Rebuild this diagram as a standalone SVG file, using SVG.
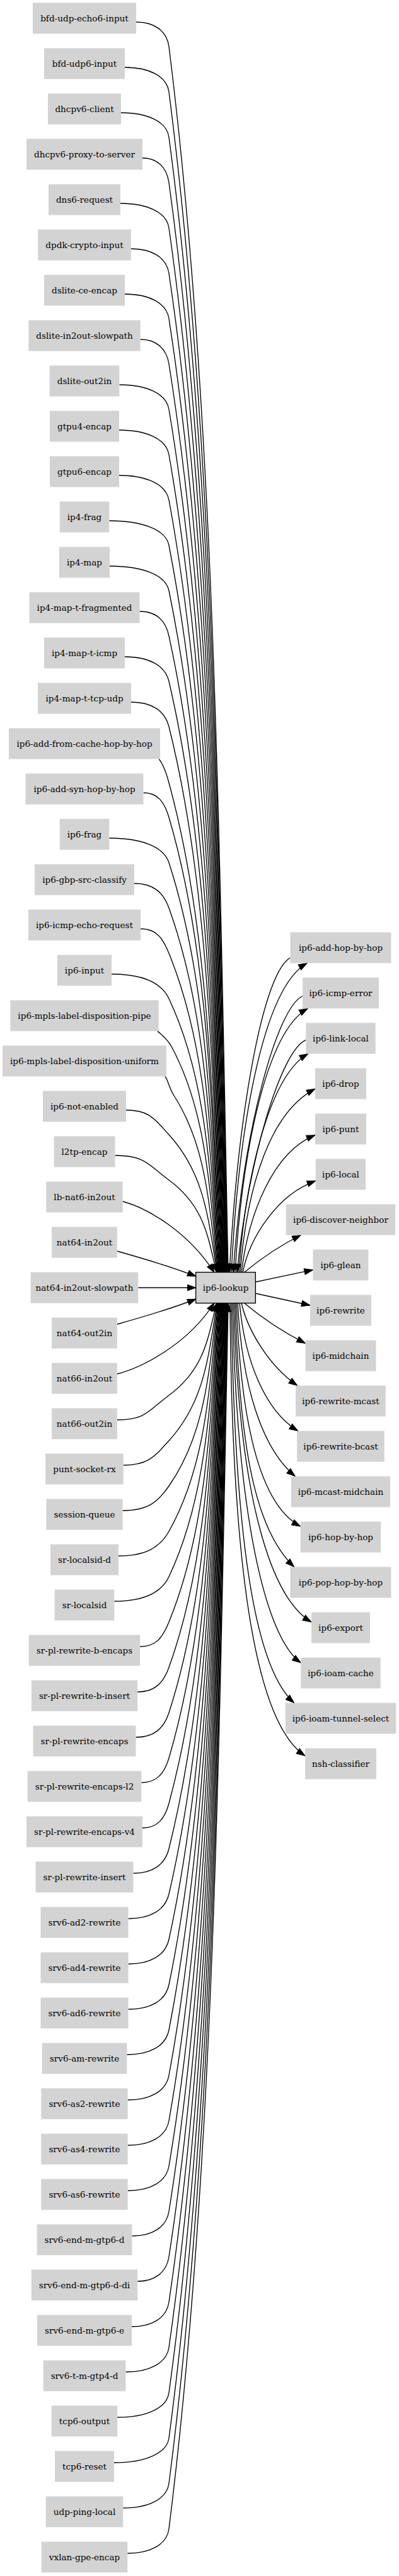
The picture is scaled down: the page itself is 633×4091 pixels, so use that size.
<svg xmlns="http://www.w3.org/2000/svg" width="633" height="4091" viewBox="0 0 633 4091">
<style>
.n rect{fill:#d3d3d3;stroke:none}
.lk rect{fill:#d3d3d3;stroke:#000;stroke-width:1.36}
text{font-family:"DejaVu Serif","Liberation Serif",serif;font-size:13.6px;text-anchor:middle;fill:#000}
.e path{fill:none;stroke:#000;stroke-width:1.36;marker-end:url(#a)}
</style>
<defs>
<marker id="a" markerUnits="userSpaceOnUse" markerWidth="14" markerHeight="10" viewBox="0 0 14 10" refX="13.6" refY="4.75" orient="auto" overflow="visible">
<path d="M0,0 L13.6,4.75 L0,9.5 z" fill="#000" stroke="#000" stroke-width="1"/>
</marker>
</defs>
<rect x="0" y="0" width="633" height="4091" fill="#fff"/>
<g id="edges" class="e">
<path d="M216,35 C244.6,35 264.9,49 268,74 C341.3,658.1 348,1339.5 362,2021"/>
<path d="M198,107 C236.5,107 264.8,121 268,146 C340.8,708.5 347.3,1364.7 361.3,2021"/>
<path d="M192,179 C233.8,179 264.7,193 268,218 C340.2,758.9 346.6,1390 360.6,2021"/>
<path d="M226,251 C249.1,251 264.6,265 268,290 C339.6,809.3 345.8,1415.1 359.8,2021"/>
<path d="M191,323 C233.4,323 264.4,337 268,362 C339.1,859.7 345.1,1440.3 359.1,2021"/>
<path d="M207.8,395 C240.9,395 264.3,409 268,434 C338.5,910.1 344.4,1465.5 358.4,2021"/>
<path d="M198,467 C236.5,467 264.2,481 268,506 C338,960.5 343.7,1490.7 357.7,2021"/>
<path d="M222.7,539 C247.6,539 264,553 268,578 C337.4,1010.9 343,1516 357,2021"/>
<path d="M189.4,611 C232.6,611 263.8,625 268,650 C336.8,1061.3 342.2,1541.1 356.2,2021"/>
<path d="M189,683 C232.5,683 263.6,697 268,722 C336.3,1111.7 341.5,1566.3 355.5,2021"/>
<path d="M189,755 C232.5,755 263.4,769 268,794 C335.7,1162.1 340.8,1591.5 354.8,2021"/>
<path d="M173.3,827 C225.4,827 263.2,841 268,866 C335.2,1212.5 340.1,1616.7 354.1,2021"/>
<path d="M174,899 C225.7,899 262.9,913 268,938 C334.6,1262.9 339.4,1641.9 353.4,2021"/>
<path d="M221.5,971 C247.1,971 262.6,985 268,1010 C334,1313.3 338.6,1667.1 352.6,2021"/>
<path d="M198,1043 C236.5,1043 262.2,1057 268,1082 C333.4,1363.7 337.9,1692.3 351.9,2021"/>
<path d="M208,1115 C241,1115 261.8,1129 268,1154 C332.9,1414.1 337.2,1717.5 351.2,2021"/>
<path d="M252,1205.5 C256,1209 262.6,1224 266,1236 C331.9,1471.5 336.5,1746.2 350.5,2021"/>
<path d="M227.5,1259 C249.8,1259 260.6,1273 268,1298 C331.8,1514.9 335.8,1767.9 349.8,2021"/>
<path d="M173.3,1331 C225.4,1331 259.9,1345 268,1370 C331.2,1565.3 335,1793.2 349,2021"/>
<path d="M212.9,1403 C243.2,1403 259,1417 268,1442 C330.6,1615.7 334.3,1818.3 348.3,2021"/>
<path d="M223.1,1475 C247.8,1475 257.8,1489 268,1514 C330.1,1666.1 333.6,1843.5 347.6,2021"/>
<path d="M177.2,1547 C227.1,1547 256.2,1561 268,1586 C329.5,1716.5 332.9,1868.7 346.9,2021"/>
<path d="M249.7,1637.5 C254,1641 265.6,1650 272,1662 C329.9,1769.7 332.2,1895.3 346.2,2021"/>
<path d="M262,1709.5 C266,1714 268.3,1728 276,1740 C330.1,1824.3 331.4,1922.6 345.4,2021"/>
<path d="M200,1763 C237.4,1763 245.2,1777 268,1802 C327.8,1867.7 330.7,1944.4 344.7,2021"/>
<path d="M182.5,1835 C229.5,1835 234.4,1849 268,1874 C327.3,1918.1 330,1969.6 344,2021"/>
<path d="M194.7,1908 C232,1918 298,1955 340,2021"/>
<path d="M185.9,1987 C225,1998 270,2011 311,2027"/>
<path d="M219.3,2045 L311,2045"/>
<path d="M185.9,2103 C225,2092 270,2079 311,2063"/>
<path d="M185.9,2182 C225,2172 298,2135 340,2069"/>
<path d="M185.9,2255 C231.1,2255 234.4,2241 268,2216 C327.3,2171.9 330,2120.4 344,2069"/>
<path d="M195.8,2327 C235.5,2327 245.2,2313 268,2288 C327.8,2222.3 330.7,2145.6 344.7,2069"/>
<path d="M194.6,2399 C235,2399 250.7,2385 268,2360 C328.4,2272.7 331.4,2170.9 345.4,2069"/>
<path d="M188,2471 C232,2471 254,2457 268,2432 C329,2323.1 332.2,2196 346.2,2069"/>
<path d="M181.4,2543 C229,2543 256.2,2529 268,2504 C329.5,2373.5 332.9,2221.3 346.9,2069"/>
<path d="M222.2,2615 C247.4,2615 257.8,2601 268,2576 C330.1,2423.9 333.6,2246.5 347.6,2069"/>
<path d="M218.1,2687 C245.5,2687 259,2673 268,2648 C330.6,2474.3 334.3,2271.7 348.3,2069"/>
<path d="M215.5,2759 C244.4,2759 259.9,2745 268,2720 C331.2,2524.7 335,2296.8 349,2069"/>
<path d="M224.3,2831 C248.3,2831 260.6,2817 268,2792 C331.8,2575.1 335.8,2322.1 349.8,2069"/>
<path d="M226,2903 C249.1,2903 261.3,2889 268,2864 C332.4,2625.5 336.5,2347.3 350.5,2069"/>
<path d="M211.5,2975 C242.6,2975 261.8,2961 268,2936 C332.9,2675.9 337.2,2372.5 351.2,2069"/>
<path d="M203.5,3047 C239,3047 262.2,3033 268,3008 C333.4,2726.3 337.9,2397.7 351.9,2069"/>
<path d="M203.5,3119 C239,3119 262.6,3105 268,3080 C334,2776.7 338.6,2422.9 352.6,2069"/>
<path d="M203.5,3191 C239,3191 262.9,3177 268,3152 C334.6,2827.1 339.4,2448.1 353.4,2069"/>
<path d="M201.3,3263 C238,3263 263.2,3249 268,3224 C335.2,2877.5 340.1,2473.3 354.1,2069"/>
<path d="M202.7,3335 C238.6,3335 263.4,3321 268,3296 C335.7,2927.9 340.8,2498.5 354.8,2069"/>
<path d="M202.7,3407 C238.6,3407 263.6,3393 268,3368 C336.3,2978.3 341.5,2523.7 355.5,2069"/>
<path d="M202.7,3479 C238.6,3479 263.8,3465 268,3440 C336.8,3028.7 342.2,2548.9 356.2,2069"/>
<path d="M209.4,3551 C241.6,3551 264,3537 268,3512 C337.4,3079.1 343,2574 357,2069"/>
<path d="M218.2,3623 C245.6,3623 264.2,3609 268,3584 C338,3129.5 343.7,2599.3 357.7,2069"/>
<path d="M209.1,3695 C241.5,3695 264.3,3681 268,3656 C338.5,3179.9 344.4,2624.5 358.4,2069"/>
<path d="M199.4,3767 C237.1,3767 264.4,3753 268,3728 C339.1,3230.3 345.1,2649.7 359.1,2069"/>
<path d="M186.2,3839 C231.2,3839 264.6,3825 268,3800 C339.6,3280.7 345.8,2674.9 359.8,2069"/>
<path d="M181,3911 C228.9,3911 264.7,3897 268,3872 C340.2,3331.1 346.6,2700 360.6,2069"/>
<path d="M195.3,3983 C235.3,3983 264.8,3969 268,3944 C340.8,3381.5 347.3,2725.3 361.3,2069"/>
<path d="M202.2,4055 C238.4,4055 264.9,4041 268,4016 C341.3,3431.9 348,2750.5 362,2069"/>
<path d="M460.5,1521 C418,1545 378,1760 364,2021"/>
<path d="M480,1582 C440,1600 386,1790 370,2021"/>
<path d="M485.3,1651.7 C446,1668 394,1840 376,2021"/>
<path d="M367,2021 C378,1800 415,1570 487.3,1529.5"/>
<path d="M373,2021 C383,1840 420,1640 488.3,1601.5"/>
<path d="M379,2021 C388,1880 425,1710 488.7,1673.5"/>
<path d="M381,2021 C392,1880 430,1765 500,1729.3"/>
<path d="M383,2021 C394,1930 432,1830 500,1802.7"/>
<path d="M385,2021 C396,1965 440,1897 500.85,1875.3"/>
<path d="M387,2021 C410,2002 440,1980 477.3,1961.5"/>
<path d="M405,2036 L496.5,2016.7"/>
<path d="M405,2054 L492,2073"/>
<path d="M387,2069 C412,2090 448,2115 484.5,2133.3"/>
<path d="M383,2069 C392,2110 425,2168 471.7,2200.5"/>
<path d="M380,2069 C388,2160 420,2240 472.7,2272.5"/>
<path d="M377,2069 C384,2200 415,2300 468.3,2344.5"/>
<path d="M375,2069 C382,2260 412,2390 476.7,2424"/>
<path d="M373,2069 C380,2300 405,2430 466.7,2488.5"/>
<path d="M371,2069 C378,2360 425,2535 494,2576"/>
<path d="M369,2069 C375,2400 420,2600 477.3,2640.7"/>
<path d="M367,2069 C372,2450 405,2650 466.7,2704.5"/>
<path d="M365,2069 C368,2520 410,2740 484,2788.3"/>
</g>
<g id="n-bfd-udp-echo6-input" class="n" transform="translate(134,29)"><rect x="-82" y="-24.5" width="164" height="49"/><text y="4.6">bfd-udp-echo6-input</text></g>
<g id="n-bfd-udp6-input" class="n" transform="translate(134,101)"><rect x="-64" y="-24.5" width="128" height="49"/><text y="4.6">bfd-udp6-input</text></g>
<g id="n-dhcpv6-client" class="n" transform="translate(134,173)"><rect x="-58" y="-24.5" width="116" height="49"/><text y="4.6">dhcpv6-client</text></g>
<g id="n-dhcpv6-proxy-to-server" class="n" transform="translate(134,245)"><rect x="-92" y="-24.5" width="184" height="49"/><text y="4.6">dhcpv6-proxy-to-server</text></g>
<g id="n-dns6-request" class="n" transform="translate(134,317)"><rect x="-57" y="-24.5" width="114" height="49"/><text y="4.6">dns6-request</text></g>
<g id="n-dpdk-crypto-input" class="n" transform="translate(134,389)"><rect x="-73.8" y="-24.5" width="147.6" height="49"/><text y="4.6">dpdk-crypto-input</text></g>
<g id="n-dslite-ce-encap" class="n" transform="translate(134,461)"><rect x="-64" y="-24.5" width="128" height="49"/><text y="4.6">dslite-ce-encap</text></g>
<g id="n-dslite-in2out-slowpath" class="n" transform="translate(134,533)"><rect x="-88.7" y="-24.5" width="177.4" height="49"/><text y="4.6">dslite-in2out-slowpath</text></g>
<g id="n-dslite-out2in" class="n" transform="translate(134,605)"><rect x="-55.4" y="-24.5" width="110.7" height="49"/><text y="4.6">dslite-out2in</text></g>
<g id="n-gtpu4-encap" class="n" transform="translate(134,677)"><rect x="-55" y="-24.5" width="110" height="49"/><text y="4.6">gtpu4-encap</text></g>
<g id="n-gtpu6-encap" class="n" transform="translate(134,749)"><rect x="-55" y="-24.5" width="110" height="49"/><text y="4.6">gtpu6-encap</text></g>
<g id="n-ip4-frag" class="n" transform="translate(134,821)"><rect x="-39.3" y="-24.5" width="78.6" height="49"/><text y="4.6">ip4-frag</text></g>
<g id="n-ip4-map" class="n" transform="translate(134,893)"><rect x="-40" y="-24.5" width="80" height="49"/><text y="4.6">ip4-map</text></g>
<g id="n-ip4-map-t-fragmented" class="n" transform="translate(134,965)"><rect x="-87.5" y="-24.5" width="175" height="49"/><text y="4.6">ip4-map-t-fragmented</text></g>
<g id="n-ip4-map-t-icmp" class="n" transform="translate(134,1037)"><rect x="-64" y="-24.5" width="128" height="49"/><text y="4.6">ip4-map-t-icmp</text></g>
<g id="n-ip4-map-t-tcp-udp" class="n" transform="translate(134,1109)"><rect x="-74" y="-24.5" width="148" height="49"/><text y="4.6">ip4-map-t-tcp-udp</text></g>
<g id="n-ip6-add-from-cache-hop-by-hop" class="n" transform="translate(134,1181)"><rect x="-120" y="-24.5" width="240" height="49"/><text y="4.6">ip6-add-from-cache-hop-by-hop</text></g>
<g id="n-ip6-add-syn-hop-by-hop" class="n" transform="translate(134,1253)"><rect x="-93.5" y="-24.5" width="187" height="49"/><text y="4.6">ip6-add-syn-hop-by-hop</text></g>
<g id="n-ip6-frag" class="n" transform="translate(134,1325)"><rect x="-39.3" y="-24.5" width="78.6" height="49"/><text y="4.6">ip6-frag</text></g>
<g id="n-ip6-gbp-src-classify" class="n" transform="translate(134,1397)"><rect x="-78.9" y="-24.5" width="157.8" height="49"/><text y="4.6">ip6-gbp-src-classify</text></g>
<g id="n-ip6-icmp-echo-request" class="n" transform="translate(134,1469)"><rect x="-89.1" y="-24.5" width="178.2" height="49"/><text y="4.6">ip6-icmp-echo-request</text></g>
<g id="n-ip6-input" class="n" transform="translate(134,1541)"><rect x="-43.2" y="-24.5" width="86.3" height="49"/><text y="4.6">ip6-input</text></g>
<g id="n-ip6-mpls-label-disposition-pipe" class="n" transform="translate(134,1613)"><rect x="-117.7" y="-24.5" width="235.4" height="49"/><text y="4.6">ip6-mpls-label-disposition-pipe</text></g>
<g id="n-ip6-mpls-label-disposition-uniform" class="n" transform="translate(134,1685)"><rect x="-130" y="-24.5" width="260" height="49"/><text y="4.6">ip6-mpls-label-disposition-uniform</text></g>
<g id="n-ip6-not-enabled" class="n" transform="translate(134,1757)"><rect x="-66" y="-24.5" width="132" height="49"/><text y="4.6">ip6-not-enabled</text></g>
<g id="n-l2tp-encap" class="n" transform="translate(134,1829)"><rect x="-48.5" y="-24.5" width="97" height="49"/><text y="4.6">l2tp-encap</text></g>
<g id="n-lb-nat6-in2out" class="n" transform="translate(134,1901)"><rect x="-60.7" y="-24.5" width="121.4" height="49"/><text y="4.6">lb-nat6-in2out</text></g>
<g id="n-nat64-in2out" class="n" transform="translate(134,1973)"><rect x="-51.9" y="-24.5" width="103.7" height="49"/><text y="4.6">nat64-in2out</text></g>
<g id="n-nat64-in2out-slowpath" class="n" transform="translate(134,2045)"><rect x="-85.3" y="-24.5" width="170.5" height="49"/><text y="4.6">nat64-in2out-slowpath</text></g>
<g id="n-nat64-out2in" class="n" transform="translate(134,2117)"><rect x="-51.9" y="-24.5" width="103.7" height="49"/><text y="4.6">nat64-out2in</text></g>
<g id="n-nat66-in2out" class="n" transform="translate(134,2189)"><rect x="-51.9" y="-24.5" width="103.7" height="49"/><text y="4.6">nat66-in2out</text></g>
<g id="n-nat66-out2in" class="n" transform="translate(134,2261)"><rect x="-51.9" y="-24.5" width="103.7" height="49"/><text y="4.6">nat66-out2in</text></g>
<g id="n-punt-socket-rx" class="n" transform="translate(134,2333)"><rect x="-61.8" y="-24.5" width="123.5" height="49"/><text y="4.6">punt-socket-rx</text></g>
<g id="n-session-queue" class="n" transform="translate(134,2405)"><rect x="-60.6" y="-24.5" width="121.2" height="49"/><text y="4.6">session-queue</text></g>
<g id="n-sr-localsid-d" class="n" transform="translate(134,2477)"><rect x="-54" y="-24.5" width="108" height="49"/><text y="4.6">sr-localsid-d</text></g>
<g id="n-sr-localsid" class="n" transform="translate(134,2549)"><rect x="-47.4" y="-24.5" width="94.7" height="49"/><text y="4.6">sr-localsid</text></g>
<g id="n-sr-pl-rewrite-b-encaps" class="n" transform="translate(134,2621)"><rect x="-88.2" y="-24.5" width="176.3" height="49"/><text y="4.6">sr-pl-rewrite-b-encaps</text></g>
<g id="n-sr-pl-rewrite-b-insert" class="n" transform="translate(134,2693)"><rect x="-84.1" y="-24.5" width="168.2" height="49"/><text y="4.6">sr-pl-rewrite-b-insert</text></g>
<g id="n-sr-pl-rewrite-encaps" class="n" transform="translate(134,2765)"><rect x="-81.5" y="-24.5" width="163" height="49"/><text y="4.6">sr-pl-rewrite-encaps</text></g>
<g id="n-sr-pl-rewrite-encaps-l2" class="n" transform="translate(134,2837)"><rect x="-90.3" y="-24.5" width="180.6" height="49"/><text y="4.6">sr-pl-rewrite-encaps-l2</text></g>
<g id="n-sr-pl-rewrite-encaps-v4" class="n" transform="translate(134,2909)"><rect x="-92" y="-24.5" width="184" height="49"/><text y="4.6">sr-pl-rewrite-encaps-v4</text></g>
<g id="n-sr-pl-rewrite-insert" class="n" transform="translate(134,2981)"><rect x="-77.5" y="-24.5" width="154.9" height="49"/><text y="4.6">sr-pl-rewrite-insert</text></g>
<g id="n-srv6-ad2-rewrite" class="n" transform="translate(134,3053)"><rect x="-69.5" y="-24.5" width="139" height="49"/><text y="4.6">srv6-ad2-rewrite</text></g>
<g id="n-srv6-ad4-rewrite" class="n" transform="translate(134,3125)"><rect x="-69.5" y="-24.5" width="139" height="49"/><text y="4.6">srv6-ad4-rewrite</text></g>
<g id="n-srv6-ad6-rewrite" class="n" transform="translate(134,3197)"><rect x="-69.5" y="-24.5" width="139" height="49"/><text y="4.6">srv6-ad6-rewrite</text></g>
<g id="n-srv6-am-rewrite" class="n" transform="translate(134,3269)"><rect x="-67.3" y="-24.5" width="134.6" height="49"/><text y="4.6">srv6-am-rewrite</text></g>
<g id="n-srv6-as2-rewrite" class="n" transform="translate(134,3341)"><rect x="-68.7" y="-24.5" width="137.3" height="49"/><text y="4.6">srv6-as2-rewrite</text></g>
<g id="n-srv6-as4-rewrite" class="n" transform="translate(134,3413)"><rect x="-68.7" y="-24.5" width="137.3" height="49"/><text y="4.6">srv6-as4-rewrite</text></g>
<g id="n-srv6-as6-rewrite" class="n" transform="translate(134,3485)"><rect x="-68.7" y="-24.5" width="137.3" height="49"/><text y="4.6">srv6-as6-rewrite</text></g>
<g id="n-srv6-end-m-gtp6-d" class="n" transform="translate(134,3557)"><rect x="-75.4" y="-24.5" width="150.8" height="49"/><text y="4.6">srv6-end-m-gtp6-d</text></g>
<g id="n-srv6-end-m-gtp6-d-di" class="n" transform="translate(134,3629)"><rect x="-84.2" y="-24.5" width="168.4" height="49"/><text y="4.6">srv6-end-m-gtp6-d-di</text></g>
<g id="n-srv6-end-m-gtp6-e" class="n" transform="translate(134,3701)"><rect x="-75.1" y="-24.5" width="150.2" height="49"/><text y="4.6">srv6-end-m-gtp6-e</text></g>
<g id="n-srv6-t-m-gtp4-d" class="n" transform="translate(134,3773)"><rect x="-65.4" y="-24.5" width="130.8" height="49"/><text y="4.6">srv6-t-m-gtp4-d</text></g>
<g id="n-tcp6-output" class="n" transform="translate(134,3845)"><rect x="-52.2" y="-24.5" width="104.4" height="49"/><text y="4.6">tcp6-output</text></g>
<g id="n-tcp6-reset" class="n" transform="translate(134,3917)"><rect x="-47" y="-24.5" width="94" height="49"/><text y="4.6">tcp6-reset</text></g>
<g id="n-udp-ping-local" class="n" transform="translate(134,3989)"><rect x="-61.3" y="-24.5" width="122.5" height="49"/><text y="4.6">udp-ping-local</text></g>
<g id="n-vxlan-gpe-encap" class="n" transform="translate(134,4061)"><rect x="-68.2" y="-24.5" width="136.4" height="49"/><text y="4.6">vxlan-gpe-encap</text></g>
<g id="n-ip6-lookup" class="lk" transform="translate(358,2045)"><rect x="-47.35" y="-24.5" width="94.7" height="49"/><text y="4.6">ip6-lookup</text></g>
<g id="n-ip6-add-hop-by-hop" class="n" transform="translate(540.5,1505)"><rect x="-80" y="-24.5" width="160" height="49"/><text y="4.6">ip6-add-hop-by-hop</text></g>
<g id="n-ip6-icmp-error" class="n" transform="translate(540.5,1577)"><rect x="-60.5" y="-24.5" width="121" height="49"/><text y="4.6">ip6-icmp-error</text></g>
<g id="n-ip6-link-local" class="n" transform="translate(540.5,1649)"><rect x="-55.2" y="-24.5" width="110.4" height="49"/><text y="4.6">ip6-link-local</text></g>
<g id="n-ip6-drop" class="n" transform="translate(540.5,1721)"><rect x="-40.5" y="-24.5" width="81" height="49"/><text y="4.6">ip6-drop</text></g>
<g id="n-ip6-punt" class="n" transform="translate(540.5,1793)"><rect x="-40.5" y="-24.5" width="81" height="49"/><text y="4.6">ip6-punt</text></g>
<g id="n-ip6-local" class="n" transform="translate(540.5,1865)"><rect x="-39.7" y="-24.5" width="79.3" height="49"/><text y="4.6">ip6-local</text></g>
<g id="n-ip6-discover-neighbor" class="n" transform="translate(540.5,1937)"><rect x="-86.7" y="-24.5" width="173.3" height="49"/><text y="4.6">ip6-discover-neighbor</text></g>
<g id="n-ip6-glean" class="n" transform="translate(540.5,2009)"><rect x="-44" y="-24.5" width="88" height="49"/><text y="4.6">ip6-glean</text></g>
<g id="n-ip6-rewrite" class="n" transform="translate(540.5,2081)"><rect x="-48.5" y="-24.5" width="97" height="49"/><text y="4.6">ip6-rewrite</text></g>
<g id="n-ip6-midchain" class="n" transform="translate(540.5,2153)"><rect x="-56" y="-24.5" width="112" height="49"/><text y="4.6">ip6-midchain</text></g>
<g id="n-ip6-rewrite-mcast" class="n" transform="translate(540.5,2225)"><rect x="-71.4" y="-24.5" width="142.7" height="49"/><text y="4.6">ip6-rewrite-mcast</text></g>
<g id="n-ip6-rewrite-bcast" class="n" transform="translate(540.5,2297)"><rect x="-69.4" y="-24.5" width="138.7" height="49"/><text y="4.6">ip6-rewrite-bcast</text></g>
<g id="n-ip6-mcast-midchain" class="n" transform="translate(540.5,2369)"><rect x="-78.7" y="-24.5" width="157.3" height="49"/><text y="4.6">ip6-mcast-midchain</text></g>
<g id="n-ip6-hop-by-hop" class="n" transform="translate(540.5,2441)"><rect x="-63.8" y="-24.5" width="127.6" height="49"/><text y="4.6">ip6-hop-by-hop</text></g>
<g id="n-ip6-pop-hop-by-hop" class="n" transform="translate(540.5,2513)"><rect x="-80" y="-24.5" width="160" height="49"/><text y="4.6">ip6-pop-hop-by-hop</text></g>
<g id="n-ip6-export" class="n" transform="translate(540.5,2585)"><rect x="-46.5" y="-24.5" width="93" height="49"/><text y="4.6">ip6-export</text></g>
<g id="n-ip6-ioam-cache" class="n" transform="translate(540.5,2657)"><rect x="-63.2" y="-24.5" width="126.4" height="49"/><text y="4.6">ip6-ioam-cache</text></g>
<g id="n-ip6-ioam-tunnel-select" class="n" transform="translate(540.5,2729)"><rect x="-87.8" y="-24.5" width="175.6" height="49"/><text y="4.6">ip6-ioam-tunnel-select</text></g>
<g id="n-nsh-classifier" class="n" transform="translate(540.5,2801)"><rect x="-56.5" y="-24.5" width="113" height="49"/><text y="4.6">nsh-classifier</text></g>
</svg>
